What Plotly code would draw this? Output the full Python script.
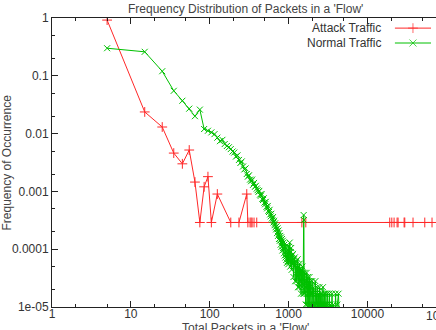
import plotly.graph_objects as go

# ---- data ----
attack_packets = [5, 15, 25, 35, 45, 55, 65, 75, 85, 95, 105, 125, 185, 235, 295, 305,
                  325, 335, 345, 365, 395, 1475, 1655,
                  19200, 20400, 21800, 23800, 24500, 29200, 29800, 37900, 53400, 66000]
attack_freq = [0.92, 0.0237, 0.013, 0.0046, 0.0030, 0.0052, 0.00145, 0.00029, 0.0012, 0.0018,
               0.00029, 0.0009, 0.00029, 0.00029, 0.0009, 0.00029,
               0.00029, 0.00029, 0.00029, 0.00029, 0.00029, 0.00029, 0.00029,
               0.00029, 0.00029, 0.00029, 0.00029, 0.00029, 0.00029, 0.00029, 0.00029, 0.00029, 0.00029]

normal_packets = [
    5, 15, 25, 35, 45, 55, 65, 75, 85, 95,
    105, 115, 125, 135, 145, 155, 165, 175, 185, 195,
    205, 215, 225, 235, 245, 255, 265, 275, 285, 295,
    305, 315, 325, 335, 345, 355, 365, 375, 385, 395,
    405, 415, 425, 435, 445, 455, 465, 475, 485, 495,
    505, 515, 525, 535, 545, 555, 565, 575, 585, 595,
    605, 615, 625, 635, 645, 655, 665, 675, 685, 695,
    705, 715, 725, 735, 745, 755, 765, 775, 785, 795,
    805, 815, 825, 835, 845, 855, 865, 875, 885, 895,
    905, 915, 925, 935, 945, 955, 965, 975, 985, 995,
    1005, 1020, 1035, 1050, 1065, 1080, 1095, 1110, 1125, 1140,
    1155, 1170, 1185, 1200, 1215, 1230, 1245, 1260, 1275, 1290,
    1305, 1320, 1335, 1350, 1365, 1380, 1395, 1410, 1425, 1440,
    1455, 1470, 1485, 1500, 1515, 1530, 1545, 1555, 1565, 1575,
    1590, 1605, 1620, 1635, 1650, 1665, 1680, 1695, 1710, 1725,
    1740, 1755, 1770, 1785, 1800, 1815, 1830, 1845, 1860, 1875,
    1890, 1905, 1920, 1935, 1950, 1965, 1980, 1995,
    2010, 2040, 2070, 2100, 2130, 2160, 2190, 2220, 2250, 2280,
    2310, 2340, 2370, 2400, 2430, 2460, 2490, 2520, 2550, 2580,
    2610, 2640, 2670, 2700, 2730, 2760, 2790, 2820, 2850, 2880,
    2910, 2940, 2970, 3000, 3040, 3080, 3120, 3160, 3200, 3250,
    3300, 3350, 3400, 3450, 3500, 3560, 3620, 3700, 3780, 3850,
    3950, 4050, 4150, 4300, 4400,
]
normal_freq = [
    0.30, 0.26, 0.12, 0.055, 0.037, 0.027, 0.020, 0.026, 0.012, 0.0112,
    0.0105, 0.0098, 0.0085, 0.0074, 0.0078, 0.0066, 0.0061, 0.0058, 0.0054, 0.0049,
    0.0047, 0.0040, 0.0042, 0.0035, 0.0031, 0.0033, 0.0027, 0.0024, 0.0025, 0.0020,
    0.0018, 0.0019, 0.0016, 0.0015, 0.0016, 0.0013, 0.0014, 0.0012, 0.00125, 0.00112,
    0.00105, 0.00098, 0.00102, 0.00088, 0.00084, 0.00090, 0.00074, 0.00071, 0.00076, 0.00064,
    0.00060, 0.00066, 0.00054, 0.00051, 0.00056, 0.00046, 0.00044, 0.00048, 0.00040, 0.00037,
    0.00041, 0.00034, 0.00032, 0.00036, 0.00029, 0.00031, 0.00026, 0.00028, 0.00024, 0.00022,
    0.00025, 0.00019, 0.00023, 0.00017, 0.00021, 0.00015, 0.00019, 0.00014, 0.00017, 0.00012,
    0.00016, 0.00011, 0.00015, 0.000095, 0.00014, 0.000105, 0.00013, 0.000085, 0.00012, 0.000078,
    0.00011, 0.000072, 0.000105, 0.000065, 0.000092, 0.000058, 0.000088, 0.000062, 0.000095, 0.000055,
    1.1e-4, 6.1e-5, 1.3e-4, 5.0e-5, 8.9e-5, 1.05e-4, 4.4e-5, 7.8e-5, 5.6e-5, 8.3e-5,
    3.3e-5, 6.7e-5, 5.0e-5, 7.2e-5, 2.8e-5, 5.6e-5, 6.1e-5, 2.8e-5, 5.0e-5, 3.3e-5,
    6.7e-5, 2.2e-5, 4.4e-5, 5.0e-5, 2.2e-5, 5.6e-5, 2.8e-5, 3.9e-5, 4.4e-5, 1.7e-5,
    4.4e-5, 2.8e-5, 2.2e-5, 5.0e-5, 3.3e-5, 1.7e-5, 3.9e-5, 3.9e-4, 3.2e-4, 2.8e-5,
    1.7e-5, 3.9e-5, 2.2e-5, 3.3e-5, 1.1e-5, 2.8e-5, 2.2e-5, 3.9e-5, 1.1e-5, 2.8e-5,
    1.7e-5, 3.3e-5, 5.6e-6, 2.2e-5, 2.8e-5, 1.1e-5, 1.7e-5, 3.3e-5, 5.6e-6, 2.2e-5,
    1.7e-5, 2.8e-5, 1.1e-5, 1.7e-5, 2.2e-5, 5.6e-6, 1.7e-5, 2.8e-5,
    1.7e-5, 1.1e-5, 2.2e-5, 5.6e-6, 1.7e-5, 1.1e-5, 2.8e-5, 5.6e-6, 1.7e-5, 1.1e-5,
    2.2e-5, 5.6e-6, 1.1e-5, 1.7e-5, 5.6e-6, 2.2e-5, 1.1e-5, 5.6e-6, 1.7e-5, 1.1e-5,
    5.6e-6, 1.7e-5, 5.6e-6, 1.1e-5, 2.2e-5, 5.6e-6, 1.1e-5, 5.6e-6, 1.7e-5, 5.6e-6,
    1.1e-5, 5.6e-6, 1.7e-5, 5.6e-6, 1.1e-5, 5.6e-6, 1.7e-5, 5.6e-6, 1.1e-5, 5.6e-6,
    1.7e-5, 5.6e-6, 1.1e-5, 5.6e-6, 5.6e-6, 1.7e-5, 5.6e-6, 1.1e-5, 5.6e-6, 5.6e-6,
    1.7e-5, 5.6e-6, 1.1e-5, 1.7e-5, 5.6e-6,
]

x_ticks = [1, 10, 100, 1000, 10000]
x_labels = ["1", "10", "100", "1000", "10000"]
y_ticks = [1, 0.1, 0.01, 0.001, 0.0001, 0.00001]
y_labels = ["1", "0.1", "0.01", "0.001", "0.0001", "1e-05"]

RED = "rgb(255,40,40)"
GREEN = "rgb(0,192,0)"
AXIS = "#222222"
TEXT = "#333333"
FONT = "Liberation Sans, Arial, sans-serif"

fig = go.Figure()

fig.add_trace(go.Scatter(
    x=attack_packets, y=attack_freq, mode="lines+markers", name="Attack Traffic",
    line=dict(color=RED, width=1),
    marker=dict(symbol="cross-thin-open", size=7, color=RED, line=dict(color=RED, width=1)),
))
fig.add_trace(go.Scatter(
    x=normal_packets, y=normal_freq, mode="lines+markers", name="Normal Traffic",
    line=dict(color=GREEN, width=1),
    marker=dict(symbol="x-thin-open", size=6, color=GREEN, line=dict(color=GREEN, width=1)),
))

# gnuplot-style key: text on the left, sample on the right
for name, color, sym, ky in [("Attack Traffic", RED, "cross-thin-open", 0.965),
                             ("Normal Traffic", GREEN, "x-thin-open", 0.9135)]:
    fig.add_trace(go.Scatter(
        x=[0.893, 0.94, 0.987], y=[ky, ky, ky], xaxis="x2", yaxis="y2",
        mode="lines+markers", showlegend=False, hoverinfo="skip",
        line=dict(color=color, width=1),
        marker=dict(symbol=sym, size=[0, 7, 0], color=color, line=dict(color=color, width=1)),
    ))
    fig.add_annotation(x=0.862, y=ky, xref="x2", yref="y2", text=name, showarrow=False,
                       xanchor="right", yanchor="middle", font=dict(size=12, color=TEXT, family=FONT))

axis_common = dict(
    type="log", ticks="inside", ticklen=6, tickcolor=AXIS, tickwidth=1, automargin=False,
    showline=True, linecolor=AXIS, linewidth=1, showgrid=False, zeroline=False,
    tickfont=dict(size=12, color=TEXT, family=FONT),
    minor=dict(ticks="inside", ticklen=3, tickcolor=AXIS, dtick="D2", showgrid=False),
)

fig.update_layout(
    width=436, height=330,
    margin=dict(l=52, r=0, t=18, b=23),
    paper_bgcolor="white", plot_bgcolor="white",
    showlegend=False,
    font=dict(family=FONT, color=TEXT, size=12),
    xaxis=dict(axis_common, range=[0, 4.87], tickmode="array", tickvals=x_ticks, ticktext=x_labels,
               mirror="ticks", ticklabelstandoff=-4),
    yaxis=dict(axis_common, range=[-5, 0], tickmode="array", tickvals=y_ticks, ticktext=y_labels),
    xaxis2=dict(overlaying="x", range=[0, 1], visible=False),
    yaxis2=dict(overlaying="y", range=[0, 1], visible=False),
)

# title, axis titles and the cropped 100000 tick label
fig.add_annotation(x=0.505, y=1.0, xref="paper", yref="paper", yshift=18, text="Frequency Distribution of Packets in a 'Flow'",
                   showarrow=False, xanchor="center", yanchor="top", font=dict(size=12, color="#444444", family=FONT))
fig.add_annotation(x=0.505, y=0, xref="paper", yref="paper", yshift=-12, text="Total Packets in a 'Flow'",
                   showarrow=False, xanchor="center", yanchor="top", font=dict(size=12, color="#444444", family=FONT))
fig.add_annotation(x=0, y=0.5, xref="paper", yref="paper", xshift=-46, text="Frequency of Occurrence",
                   textangle=-90, showarrow=False, xanchor="center", yanchor="middle",
                   font=dict(size=12, color="#444444", family=FONT))
fig.add_annotation(x=1.026, y=0, xref="paper", yref="paper", yshift=0, text="100000",
                   showarrow=False, xanchor="center", yanchor="top", font=dict(size=12, color=TEXT, family=FONT))

fig.write_html("out.html", config={"displayModeBar": False},
               post_script="document.body.style.margin='0';")
